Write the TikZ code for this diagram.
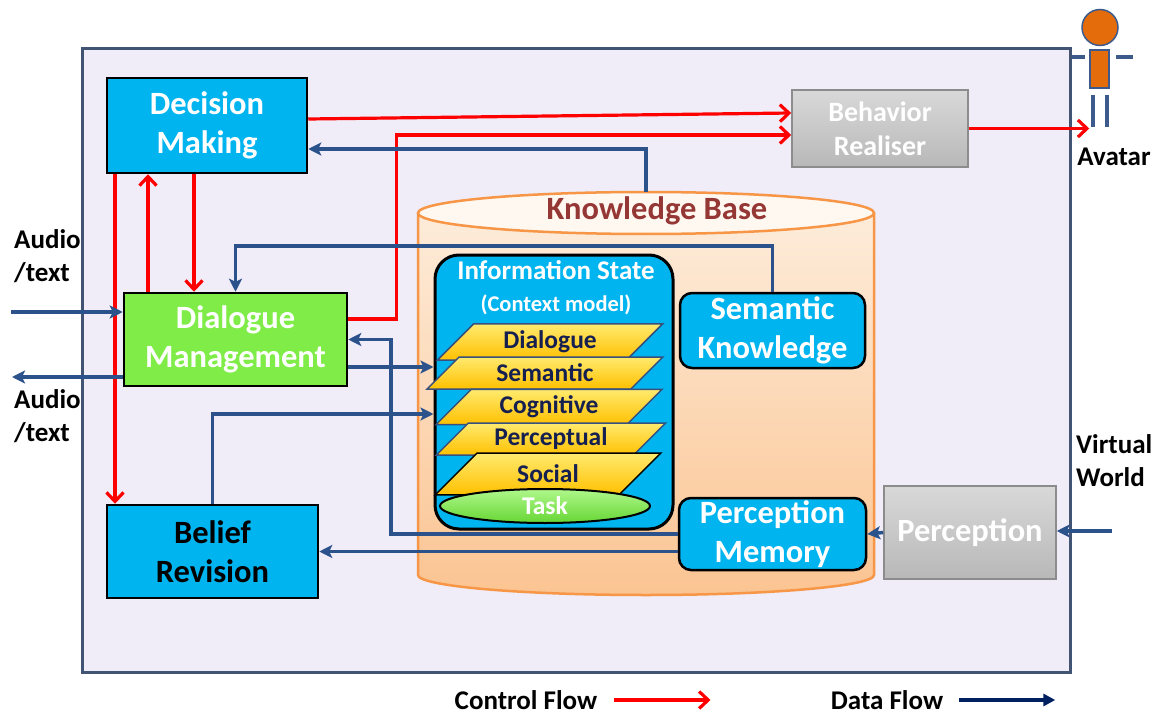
\documentclass[tikz,border=0pt]{standalone}
\usepackage{fontspec}
\setmainfont{Carlito}
\usetikzlibrary{arrows.meta, shapes.geometric}

\definecolor{framefill}{RGB}{240,236,248}
\definecolor{frameedge}{RGB}{66,84,116}
\definecolor{skyblue}{RGB}{0,180,240}
\definecolor{mgmtgreen}{RGB}{128,236,72}
\definecolor{flowblue}{RGB}{44,82,140}
\definecolor{flownavy}{RGB}{0,32,96}
\definecolor{flowred}{RGB}{255,0,0}
\definecolor{kbedge}{RGB}{247,150,70}
\definecolor{kbtop}{RGB}{253,236,218}
\definecolor{kbbottom}{RGB}{251,196,146}
\definecolor{kbcap}{RGB}{255,248,240}
\definecolor{kbred}{RGB}{149,55,53}
\definecolor{layertop}{RGB}{255,234,110}
\definecolor{layerbottom}{RGB}{255,192,0}
\definecolor{layeredge}{RGB}{55,80,125}
\definecolor{layertext}{RGB}{22,32,80}
\definecolor{tasktop}{RGB}{176,248,140}
\definecolor{taskbottom}{RGB}{102,214,52}
\definecolor{realgray}{RGB}{200,200,200}
\definecolor{realedge}{RGB}{140,140,140}
\definecolor{avorange}{RGB}{228,108,10}
\definecolor{avblue}{RGB}{60,90,140}

\newcommand{\boxfont}{\fontsize{32.5}{39}\selectfont\bfseries}
\newcommand{\midfont}{\fontsize{28}{34}\selectfont\bfseries}
\newcommand{\headfont}{\fontsize{27}{32}\selectfont\bfseries}
\newcommand{\subfont}{\fontsize{22.5}{32}\selectfont\bfseries}
\newcommand{\layerfont}{\fontsize{25.5}{30}\selectfont\bfseries}
\newcommand{\labelfont}{\fontsize{27}{33}\selectfont\bfseries}

\begin{document}
\begin{tikzpicture}[
        x = 1pt, y = -1pt, % pixel grid, y grows downwards
        > = {Stealth[length=13pt, width=13pt, inset=3pt]}, % data arrow head
        line join = miter
    ]

    \tikzstyle{module}=[
        draw = black,
        line width = 2.5pt,
        fill = skyblue,
        text = white,
        align = center,
        inner sep = 0pt,
        font = \boxfont
    ]
    \tikzstyle{store}=[module, rounded corners = 12pt]
    \tikzstyle{engine}=[
        draw = realedge,
        line width = 1.5pt,
        top color = realgray!70!white,
        bottom color = realgray!92!black,
        text = white,
        align = center,
        inner sep = 0pt,
        font = \boxfont
    ]
    \tikzstyle{layer}=[
        trapezium,
        trapezium left angle = 45,
        trapezium right angle = 135,
        minimum width = 226,
        minimum height = 32,
        inner sep = 0pt,
        draw = layeredge,
        line width = 1.5pt,
        top color = layertop,
        bottom color = layerbottom,
        text = layertext,
        font = \layerfont
    ]
    \tikzstyle{ctrl}=[-{Straight Barb[length=9pt, width=17pt]}, draw = flowred, line width = 3.2pt]
    \tikzstyle{data}=[->, draw = flowblue, line width = 3.5pt]
    \tikzstyle{sidelabel}=[align = left, inner sep = 0pt, font = \labelfont]
    \tikzstyle{limb}=[draw = avblue, line width = 4.5pt]

    \useasboundingbox (0,0) rectangle (1156,714);

    % outer frame
    \draw[draw = frameedge, line width = 3pt, fill = framefill] (82,49) rectangle (1070,672);

    % knowledge base drum
    \draw[draw = kbedge, line width = 2.5pt, top color = kbtop, bottom color = kbbottom]
        (418,213) -- (418,575) arc[start angle=180, end angle=0, x radius=228, y radius=20] -- (874,213);
    \draw[draw = kbedge, line width = 2.5pt, fill = kbcap] (646,213) ellipse[x radius=228, y radius=21];
    \coordinate (kbtop) at (646,192);
    \node (kbname) [font = \boxfont, text = kbred] at (657,211) {Knowledge Base};

    % modules
    \node (dm) [module, minimum width=200, minimum height=95] at (207,125.5) {Decision\\Making};
    \node (dlg) [module, fill=mgmtgreen, minimum width=223, minimum height=93] at (235.5,339.5) {Dialogue\\Management};
    \node (bel) [module, text=black, minimum width=211, minimum height=93] at (212.5,551.5) {Belief\\Revision};
    \node (br) [engine, font=\midfont, minimum width=176, minimum height=77] at (880,128.5) {Behavior\\Realiser};
    \node (perc) [engine, minimum width=172, minimum height=93] at (970,532.5) {Perception};
    \node (sem) [store, minimum width=185, minimum height=75] at (772.5,330.5) {Semantic\\Knowledge};
    \node (pm) [store, minimum width=187, minimum height=72] at (772.5,534) {Perception\\Memory};

    % information state and its layers
    \node (info) [store, rounded corners=24pt, line width=3pt, minimum width=238, minimum height=274] at (554,392) {};
    \node (infohead) [text=white, align=center, inner sep=0pt, font=\headfont] at (556,288) {Information State\\{\subfont (Context model)}};
    \node (ldlg) [layer] at (550,342) {Dialogue};
    \node (lsem) [layer] at (545,373) {Semantic};
    \node (lcog) [layer] at (549,407) {Cognitive};
    \node (lper) [layer] at (551,439) {Perceptual};
    \node (lsoc) [layer, draw=black] at (548,474) {Social};
    \node (task) [ellipse, draw=black, line width=2pt, top color=tasktop, bottom color=taskbottom,
        minimum width=210, minimum height=34, inner sep=0pt, text=white, font=\layerfont] at (545,506) {Task};

    % avatar
    \node (avhead) [circle, draw=avblue, line width=1.5pt, fill=avorange, minimum size=36, inner sep=0pt] at (1100,27.5) {};
    \node (avbody) [rectangle, draw=avblue, line width=1.5pt, fill=avorange, minimum width=19, minimum height=38, inner sep=0pt] at (1099.5,69) {};
    \draw[limb] (1072,57) -- (1085,57) (1116,57) -- (1133,57);
    \draw[limb] (1093,95) -- (1093,127) (1107,95) -- (1107,127);

    % outside labels
    \node (avname) [sidelabel] at (1114,157) {Avatar};
    \node (audiotop) [sidelabel, anchor=west] at (14,256) {Audio\\/text};
    \node (audiobot) [sidelabel, anchor=west] at (14,416) {Audio\\/text};
    \node (vworld) [sidelabel, anchor=west] at (1076,461) {Virtual\\World};
    \coordinate (audioin) at (11,312);
    \coordinate (audioout) at (12,377);
    \coordinate (vwin) at (1112,531);

    % control flow
    \coordinate (dmdown) at ([xshift=-13pt]dm.south);
    \coordinate (dlgup) at ([xshift=-87.5pt]dlg.north);
    \coordinate (dmbel) at ([xshift=-92pt]dm.south);
    \draw[ctrl] ([yshift=6.5pt]dm.east) -- ([yshift=15.5pt]br.west);
    \draw[ctrl] ([yshift=20.5pt]dlg.east) -- ++(48,0) |- ([yshift=-6.5pt]br.west);
    \draw[ctrl] (dmdown) -- (dmdown |- dlg.north);
    \draw[ctrl] (dlgup) -- (dlgup |- dm.south);
    \draw[ctrl] (dmbel) -- (dmbel |- bel.north);
    \draw[ctrl] (br.east) -- (br.east -| avbody.west);

    % data flow
    \coordinate (dlgout) at ([yshift=-27.5pt]dlg.east);
    \draw[data] (kbtop) |- ([yshift=-23.5pt]dm.east);
    \draw[data] (sem.north) -- ++(0,-46) -| (dlg.north);
    \draw[data] (audioin) -- (audioin -| dlg.west);
    \draw[data] (dlg.west |- audioout) -- (audioout);
    \draw[data] (pm.west) -- ++(-287,0) |- (dlg.east);
    \draw[data] (dlgout) -- (dlgout -| info.west);
    \draw[data] (bel.north) |- ([yshift=-22pt]info.west);
    \draw[data] (pm.west |- bel.east) -- (bel.east);
    \draw[data] (perc.west) -- (pm.east);
    \draw[data] (vwin) -- (vwin -| perc.east);

    % legend
    \node (ctrlkey) [sidelabel] at (526,700) {Control Flow};
    \node (datakey) [sidelabel] at (887,700) {Data Flow};
    \draw[ctrl] ([xshift=17pt]ctrlkey.east) -- ++(96,0);
    \draw[data, draw=flownavy, -{Triangle[length=12pt, width=12pt]}] ([xshift=16pt]datakey.east) -- ++(96,0);

\end{tikzpicture}
\end{document}
